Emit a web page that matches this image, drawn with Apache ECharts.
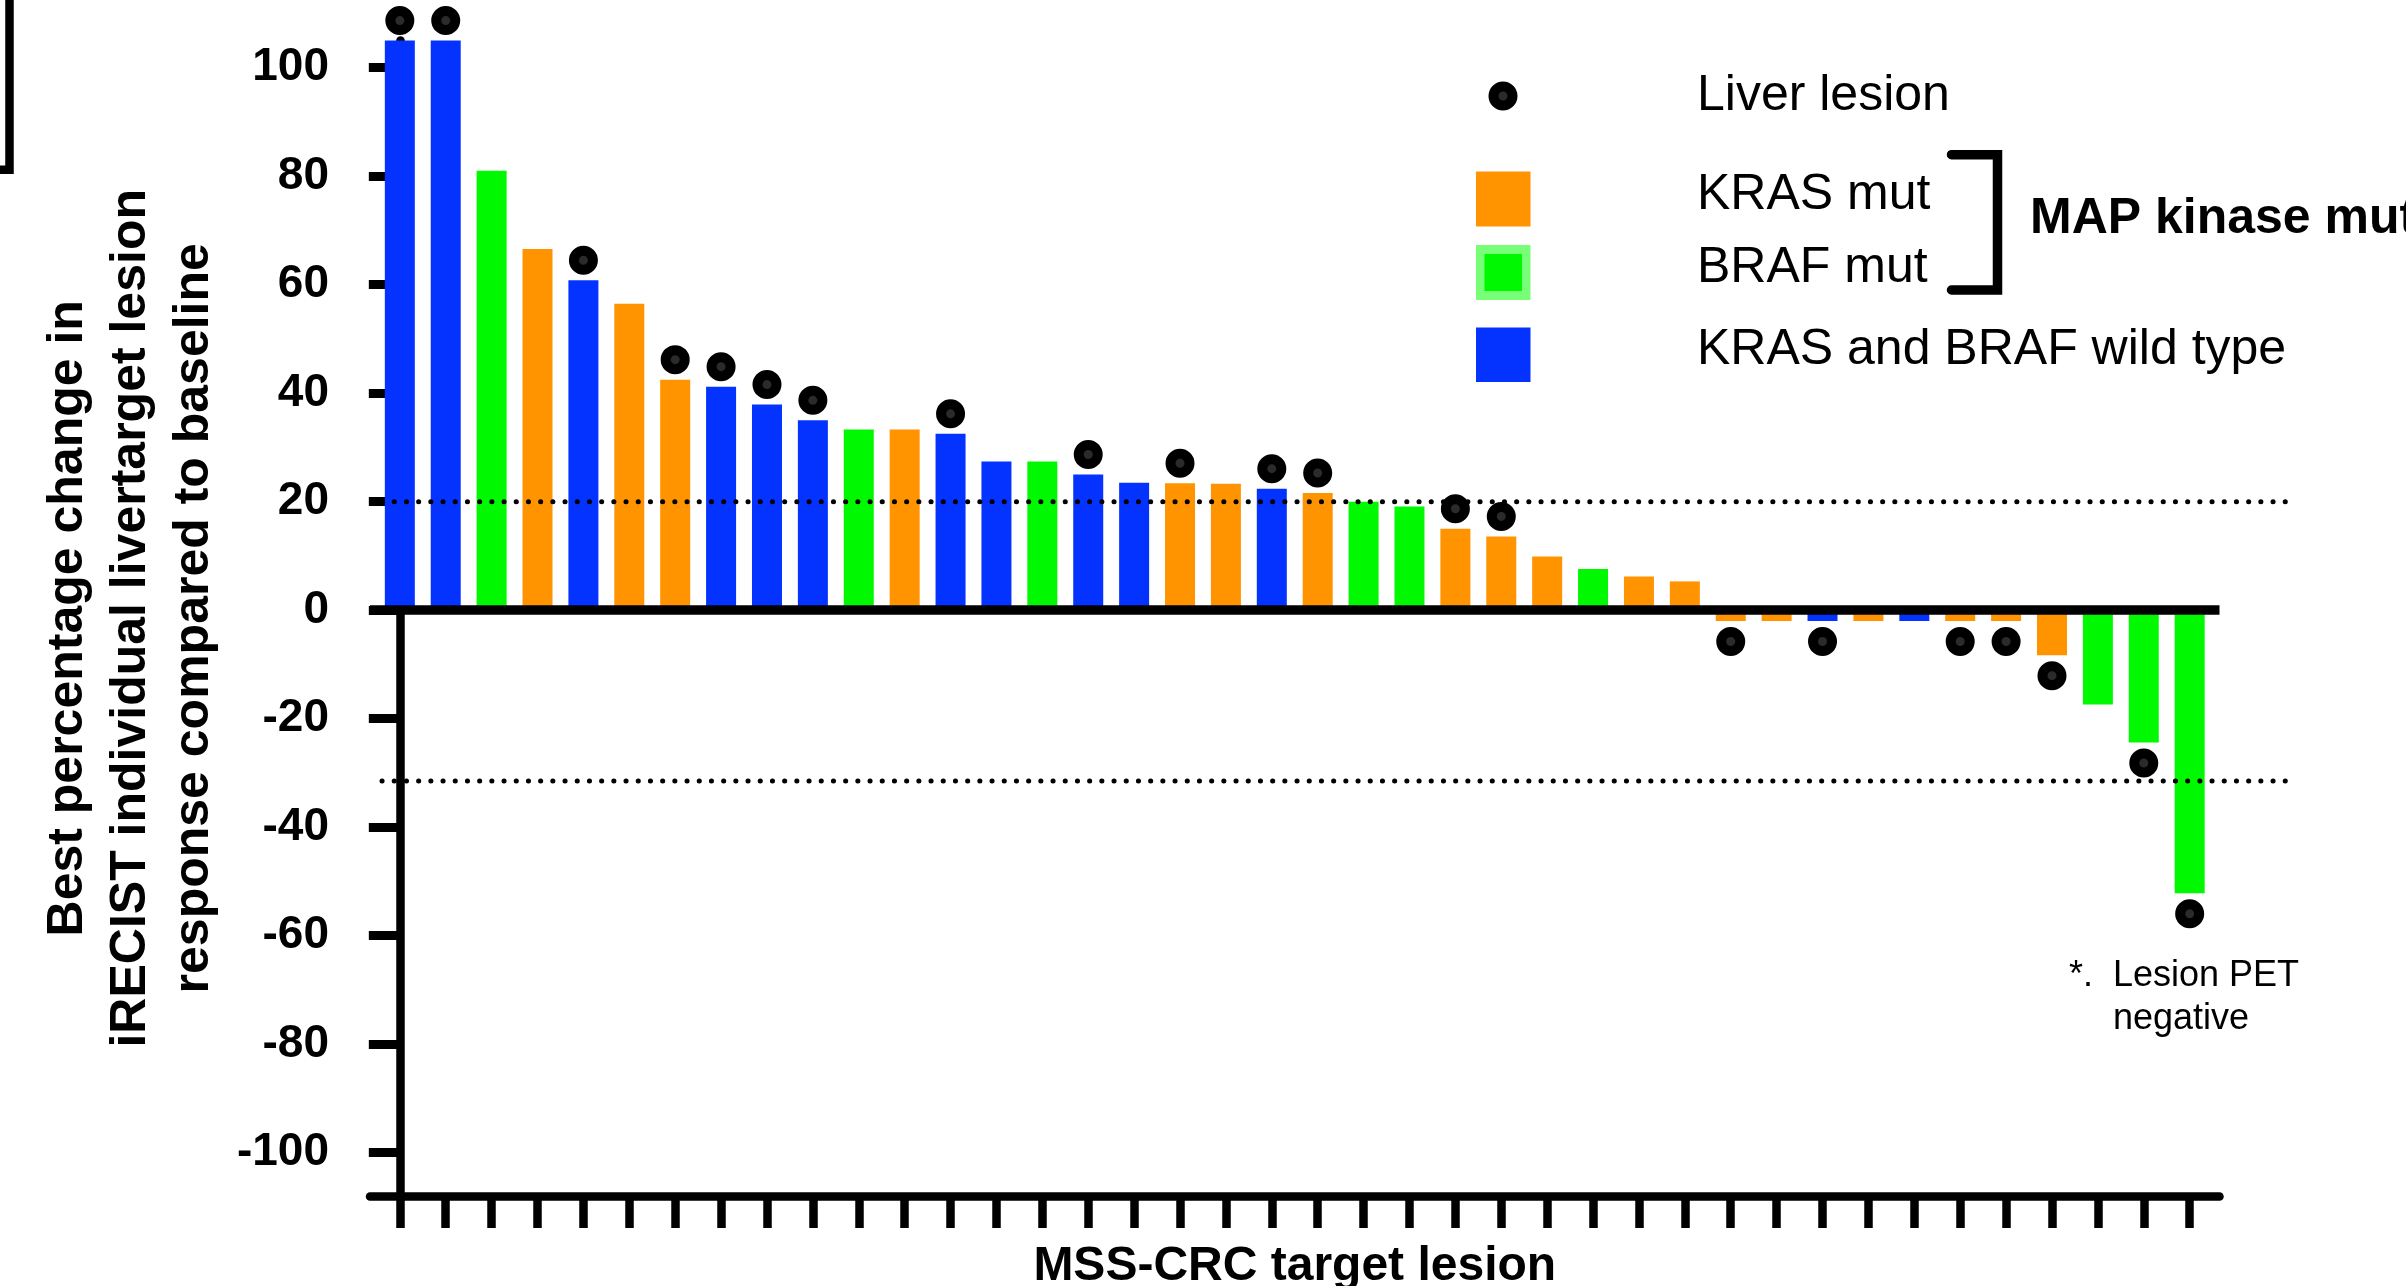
<!DOCTYPE html>
<html>
<head>
<meta charset="utf-8">
<script src="https://cdn.jsdelivr.net/npm/echarts@6/dist/echarts.min.js"></script>
<style>
  html, body { margin: 0; padding: 0; background: #fff; }
  #chart { width: 2406px; height: 1286px; }
</style>
</head>
<body>
<div id="chart"></div>
<script>
// lesions, in plotted order
const lesions = [1, 2, 3, 4, 5, 6, 7, 8, 9, 10, 11, 12, 13, 14, 15, 16, 17, 18, 19, 20,
  21, 22, 23, 24, 25, 26, 27, 28, 29, 30, 31, 32, 33, 34, 35, 36, 37, 38, 39, 40];
// best % change vs baseline
const changes = [105, 105, 81.0, 66.6, 60.8, 56.5, 42.5, 41.2, 37.9, 35.0,
  33.3, 33.3, 32.5, 27.4, 27.4, 25.0, 23.5, 23.4, 23.3, 22.4,
  21.6, 20.0, 19.1, 15.0, 13.6, 9.9, 7.6, 6.2, 5.3, -2.0,
  -2.0, -2.0, -2.0, -2.0, -2.0, -2.0, -8.3, -17.4, -24.4, -52.2];
// mutation group of each lesion
const mutation = ["WT", "WT", "BRAF", "KRAS", "WT", "KRAS", "KRAS", "WT", "WT", "WT",
  "BRAF", "KRAS", "WT", "WT", "BRAF", "WT", "WT", "KRAS", "KRAS", "WT",
  "KRAS", "BRAF", "BRAF", "KRAS", "KRAS", "KRAS", "BRAF", "KRAS", "KRAS", "KRAS",
  "KRAS", "WT", "KRAS", "WT", "KRAS", "KRAS", "KRAS", "BRAF", "BRAF", "BRAF"];
// 1 = liver lesion
const liver = [1, 1, 0, 0, 1, 0, 1, 1, 1, 1, 0, 0, 1, 0, 0, 1, 0, 1, 0, 1,
  1, 0, 0, 1, 1, 0, 0, 0, 0, 1, 0, 1, 0, 0, 1, 1, 1, 0, 1, 1];
// dotted reference lines
const thresholds = [20, -31.5];
const yTicks = [-100, -80, -60, -40, -20, 0, 20, 40, 60, 80, 100];

const colors = { KRAS: "#ff9300", BRAF: "#00f900", WT: "#0433ff" };
const font = '"Liberation Sans", Arial, Helvetica, sans-serif';

(function () {
  let mychart = echarts.init(document.getElementById("chart"));

  let xPos = lesions.map(function (d, i) { return i; });

  let barData = changes.map(function (v, i) {
    return { value: [xPos[i], v], itemStyle: { color: colors[mutation[i]] } };
  });

  let dotData = [];
  changes.forEach(function (v, i) {
    if (liver[i]) {
      dotData.push({ value: [xPos[i], v], symbolOffset: [0, v >= 0 ? -20 : 20.5] });
    }
  });

  // dotted lines sit in a second, wider grid (same y scale) so they run past the axis end
  let refSeries = thresholds.map(function (t) {
    return {
      type: "line",
      xAxisIndex: 1,
      yAxisIndex: 1,
      silent: true,
      z: 3,
      symbol: "none",
      lineStyle: { color: "#000", width: 5, type: [0.1, 12.1], cap: "round" },
      data: [[0, t], [1, t]],
    };
  });

  let option = {
    animation: false,
    backgroundColor: "#fff",
    grid: [
      { left: 370, right: 186.5, top: 40.6, bottom: 90, containLabel: false, outerBoundsMode: "none" },
      { left: 382, right: 114, top: 40.6, bottom: 90, containLabel: false, outerBoundsMode: "none" },
    ],
    xAxis: [
      {
        type: "value",
        min: -0.65,
        max: 39.65,
        position: "bottom",
        axisLine: { onZero: false, lineStyle: { color: "#000", width: 8.5 } },
        axisTick: { show: true, customValues: xPos, length: 32, lineStyle: { color: "#000", width: 8.5 } },
        axisLabel: { show: false },
        splitLine: { show: false },
        name: "MSS-CRC target lesion",
        nameLocation: "middle",
        nameGap: 47,
        nameTextStyle: { color: "#000", fontSize: 48, fontWeight: "bold", fontFamily: font },
      },
      { gridIndex: 1, type: "value", min: 0, max: 1, show: false },
    ],
    yAxis: [
      {
        type: "value",
        min: -108,
        max: 105,
        axisLine: { show: true, lineStyle: { color: "#000", width: 8.5 } },
        axisTick: { show: true, customValues: yTicks, length: 31, lineStyle: { color: "#000", width: 9 } },
        axisLabel: {
          customValues: yTicks,
          margin: 41,
          color: "#000",
          fontSize: 46,
          fontWeight: "bold",
          fontFamily: font,
        },
        splitLine: { show: false },
        name: "Best percentage change in\niRECIST individual livertarget lesion\nresponse compared to baseline",
        nameLocation: "middle",
        nameGap: 144,
        nameTextStyle: { color: "#000", fontSize: 50, fontWeight: "bold", fontFamily: font, lineHeight: 63, align: "center" },
      },
      { gridIndex: 1, type: "value", min: -108, max: 105, show: false },
    ],
    series: [
      {
        type: "bar",
        barWidth: 30,
        data: barData,
        markLine: {
          silent: true,
          symbol: "none",
          label: { show: false },
          lineStyle: { color: "#000", width: 9.5, type: "solid" },
          data: [{ yAxis: 0 }],
        },
      },
      {
        type: "scatter",
        clip: false,
        z: 4,
        symbol: "circle",
        symbolSize: 19,
        itemStyle: { color: "#2b2b2b", borderColor: "#000", borderWidth: 10, opacity: 1 },
        data: dotData,
      },
    ].concat(refSeries),
    graphic: [
      // corner of the neighbouring panel
      {
        type: "polyline",
        shape: { points: [[9.5, 0], [9.5, 169.7], [0, 169.7]] },
        style: { stroke: "#000", lineWidth: 8.5, fill: null },
      },
      // legend
      { type: "circle", shape: { cx: 1503, cy: 96, r: 9.5 }, style: { fill: "#2b2b2b", stroke: "#000", lineWidth: 10 } },
      { type: "rect", shape: { x: 1476, y: 171.5, width: 54.5, height: 55 }, style: { fill: colors.KRAS } },
      { type: "rect", shape: { x: 1476, y: 245, width: 54.5, height: 55 }, style: { fill: "#77ff77" } },
      { type: "rect", shape: { x: 1484.5, y: 254, width: 37.5, height: 37 }, style: { fill: colors.BRAF } },
      { type: "rect", shape: { x: 1476, y: 327.4, width: 54.5, height: 54.5 }, style: { fill: colors.WT } },
      { type: "text", x: 1697, y: 96, style: { text: "Liver lesion", font: "50px " + font, fill: "#000", verticalAlign: "middle" } },
      { type: "text", x: 1697, y: 195, style: { text: "KRAS mut", font: "50px " + font, fill: "#000", verticalAlign: "middle" } },
      { type: "text", x: 1697, y: 268, style: { text: "BRAF mut", font: "50px " + font, fill: "#000", verticalAlign: "middle" } },
      { type: "text", x: 1697, y: 350, style: { text: "KRAS and BRAF wild type", font: "50px " + font, fill: "#000", verticalAlign: "middle" } },
      {
        type: "polyline",
        shape: { points: [[1951.5, 154.7], [1997.5, 154.7], [1997.5, 290], [1951.5, 290]] },
        style: { stroke: "#000", lineWidth: 9.5, fill: null, lineCap: "round", lineJoin: "miter" },
      },
      { type: "text", x: 2030, y: 219, style: { text: "MAP kinase mut", font: "bold 50px " + font, fill: "#000", verticalAlign: "middle" } },
      // note
      { type: "text", x: 2069, y: 976, style: { text: "*.", font: "36px " + font, fill: "#000", verticalAlign: "middle" } },
      { type: "text", x: 2113, y: 976, style: { text: "Lesion PET", font: "36px " + font, fill: "#000", verticalAlign: "middle" } },
      { type: "text", x: 2113, y: 1019, style: { text: "negative", font: "36px " + font, fill: "#000", verticalAlign: "middle" } },
    ],
  };
  mychart.setOption(option);
})();
</script>
</body>
</html>
